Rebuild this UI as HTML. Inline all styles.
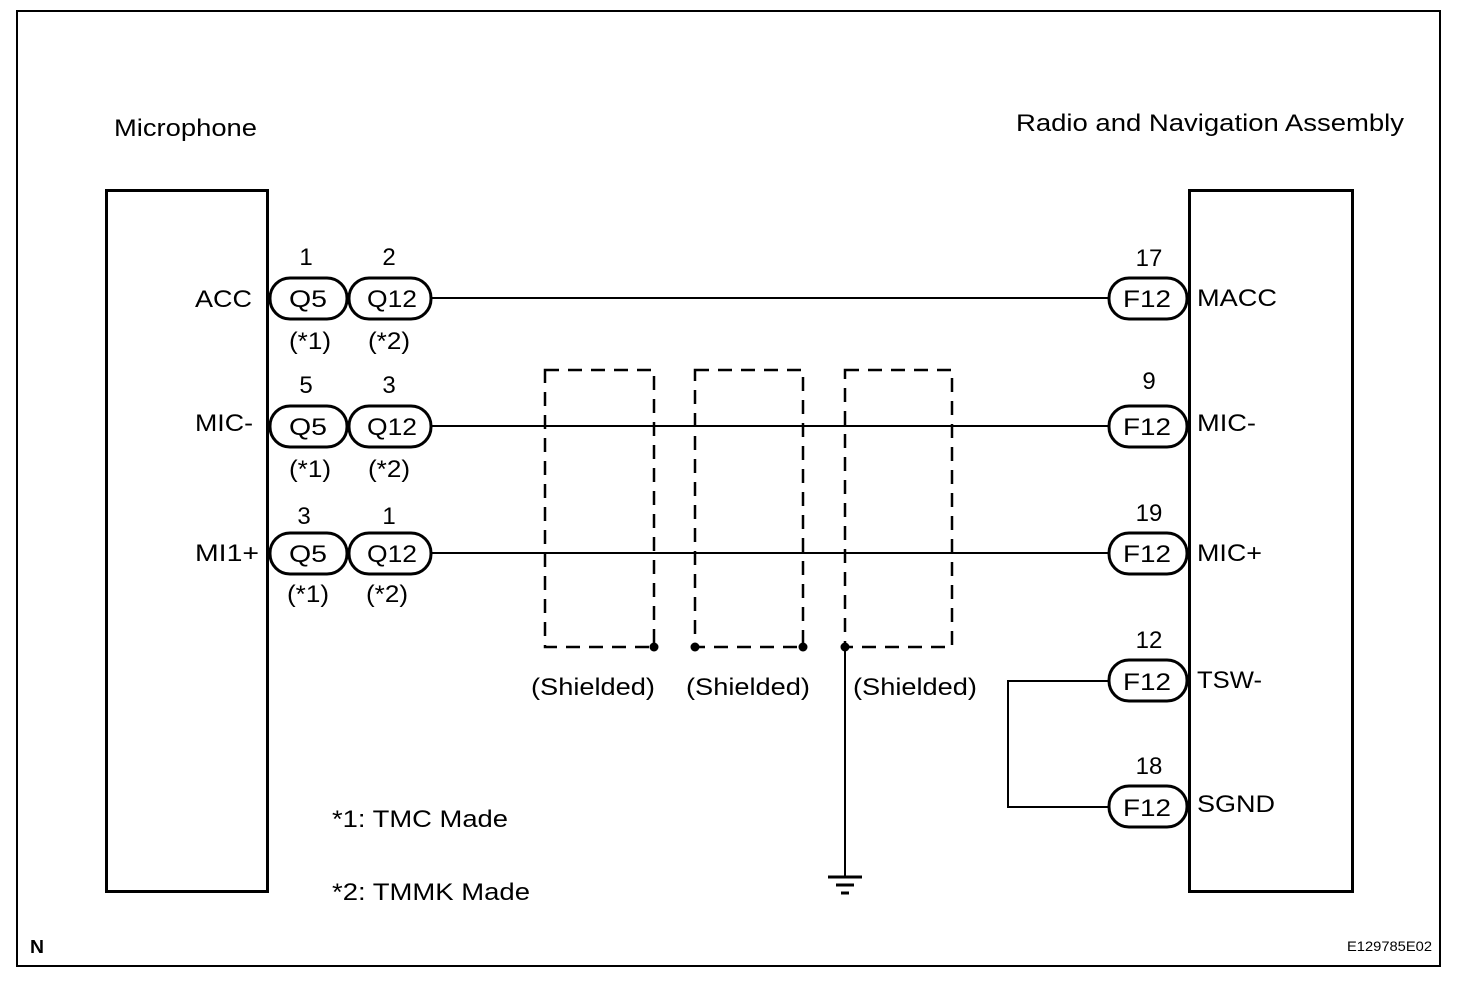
<!DOCTYPE html>
<html><head><meta charset="utf-8"><style>
body{margin:0;background:#fff}
svg{display:block}
text{font-family:"Liberation Sans",Arial,sans-serif;font-size:24px;fill:#000}
</style></head><body>
<svg width="1472" height="984" viewBox="0 0 1472 984" xmlns="http://www.w3.org/2000/svg">
<rect x="17" y="11" width="1423" height="955" fill="none" stroke="#000" stroke-width="2"/>
<rect x="106.5" y="190.5" width="161" height="701" fill="none" stroke="#000" stroke-width="3"/>
<rect x="1189.5" y="190.5" width="163" height="701" fill="none" stroke="#000" stroke-width="3"/>
<text x="114" y="136" textLength="143" lengthAdjust="spacingAndGlyphs">Microphone</text>
<text x="1016" y="131" textLength="388" lengthAdjust="spacingAndGlyphs">Radio and Navigation Assembly</text>

<g stroke="#000" stroke-width="2" fill="none">
<line x1="431" y1="298" x2="1108" y2="298"/>
<line x1="431" y1="426" x2="1108" y2="426"/>
<line x1="431" y1="553" x2="1108" y2="553"/>
<polyline points="1108,681 1008,681 1008,807 1108,807"/>
<line x1="845" y1="647" x2="845" y2="878"/>
</g>
<g stroke="#000" stroke-width="3">
<line x1="828" y1="877" x2="862" y2="877"/>
<line x1="836" y1="885" x2="854" y2="885"/>
<line x1="841" y1="893" x2="849" y2="893"/>
</g>
<g stroke="#000" stroke-width="2.5" fill="none" stroke-dasharray="14,9">
<rect x="545" y="370" width="109" height="277"/>
<rect x="695" y="370" width="108" height="277"/>
<rect x="845" y="370" width="107" height="277"/>
</g>
<g fill="#000">
<circle cx="654" cy="647" r="4.5"/><circle cx="695" cy="647" r="4.5"/>
<circle cx="803" cy="647" r="4.5"/><circle cx="845" cy="647" r="4.5"/>
</g>

<g stroke="#000" stroke-width="3" fill="#fff">
<rect x="270" y="278" width="77" height="41" rx="20"/>
<rect x="349" y="278" width="82" height="41" rx="20"/>
<rect x="270" y="406" width="77" height="41" rx="20"/>
<rect x="349" y="406" width="82" height="41" rx="20"/>
<rect x="270" y="533" width="77" height="41" rx="20"/>
<rect x="349" y="533" width="82" height="41" rx="20"/>
<rect x="1109" y="278" width="78" height="41" rx="20"/>
<rect x="1109" y="406" width="78" height="41" rx="20"/>
<rect x="1109" y="533" width="78" height="41" rx="20"/>
<rect x="1109" y="660" width="78" height="41" rx="20"/>
<rect x="1109" y="786" width="78" height="41" rx="20"/>
</g>

<g text-anchor="middle" lengthAdjust="spacingAndGlyphs">
<text x="308" y="307" textLength="38" lengthAdjust="spacingAndGlyphs">Q5</text><text x="392" y="307" textLength="50" lengthAdjust="spacingAndGlyphs">Q12</text>
<text x="308" y="435" textLength="38" lengthAdjust="spacingAndGlyphs">Q5</text><text x="392" y="435" textLength="50" lengthAdjust="spacingAndGlyphs">Q12</text>
<text x="308" y="562" textLength="38" lengthAdjust="spacingAndGlyphs">Q5</text><text x="392" y="562" textLength="50" lengthAdjust="spacingAndGlyphs">Q12</text>
<text x="306" y="265">1</text><text x="389" y="265">2</text>
<text x="306" y="393">5</text><text x="389" y="393">3</text>
<text x="304" y="524">3</text><text x="389" y="524">1</text>
<text x="310" y="349" textLength="42" lengthAdjust="spacingAndGlyphs">(*1)</text><text x="389" y="349" textLength="42" lengthAdjust="spacingAndGlyphs">(*2)</text>
<text x="310" y="477" textLength="42" lengthAdjust="spacingAndGlyphs">(*1)</text><text x="389" y="477" textLength="42" lengthAdjust="spacingAndGlyphs">(*2)</text>
<text x="308" y="602" textLength="42" lengthAdjust="spacingAndGlyphs">(*1)</text><text x="387" y="602" textLength="42" lengthAdjust="spacingAndGlyphs">(*2)</text>
<text x="1147" y="307" textLength="48" lengthAdjust="spacingAndGlyphs">F12</text><text x="1147" y="435" textLength="48" lengthAdjust="spacingAndGlyphs">F12</text>
<text x="1147" y="562" textLength="48" lengthAdjust="spacingAndGlyphs">F12</text><text x="1147" y="690" textLength="48" lengthAdjust="spacingAndGlyphs">F12</text>
<text x="1147" y="816" textLength="48" lengthAdjust="spacingAndGlyphs">F12</text>
<text x="1149" y="266">17</text><text x="1149" y="389">9</text>
<text x="1149" y="521">19</text><text x="1149" y="648">12</text>
<text x="1149" y="774">18</text>
<text x="593" y="695" textLength="124" lengthAdjust="spacingAndGlyphs">(Shielded)</text>
<text x="748" y="695" textLength="124" lengthAdjust="spacingAndGlyphs">(Shielded)</text>
<text x="915" y="695" textLength="124" lengthAdjust="spacingAndGlyphs">(Shielded)</text>
</g>
<text x="195" y="307" textLength="57" lengthAdjust="spacingAndGlyphs">ACC</text>
<text x="195" y="431" textLength="58" lengthAdjust="spacingAndGlyphs">MIC-</text>
<text x="195" y="561" textLength="64" lengthAdjust="spacingAndGlyphs">MI1+</text>
<text x="1197" y="306" textLength="80" lengthAdjust="spacingAndGlyphs">MACC</text>
<text x="1197" y="431" textLength="59" lengthAdjust="spacingAndGlyphs">MIC-</text>
<text x="1197" y="561" textLength="65" lengthAdjust="spacingAndGlyphs">MIC+</text>
<text x="1197" y="688" textLength="65" lengthAdjust="spacingAndGlyphs">TSW-</text>
<text x="1197" y="812" textLength="78" lengthAdjust="spacingAndGlyphs">SGND</text>
<text x="332" y="827" textLength="176" lengthAdjust="spacingAndGlyphs">*1: TMC Made</text>
<text x="332" y="900" textLength="198" lengthAdjust="spacingAndGlyphs">*2: TMMK Made</text>
<text x="30" y="953" style="font-size:18px;font-weight:bold" textLength="14" lengthAdjust="spacingAndGlyphs">N</text>
<text x="1347" y="951" style="font-size:14px" textLength="85" lengthAdjust="spacingAndGlyphs">E129785E02</text>
</svg>
</body></html>
